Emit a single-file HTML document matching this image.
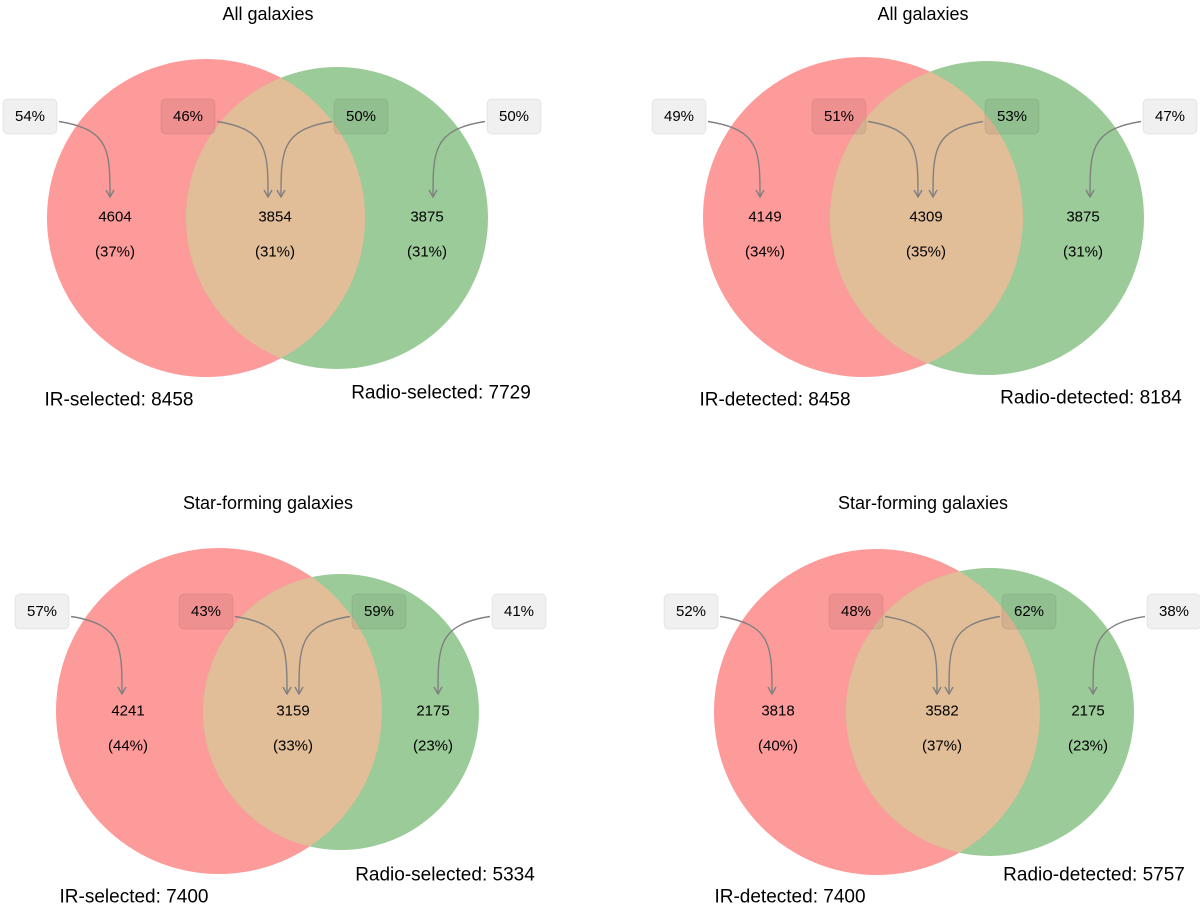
<!DOCTYPE html>
<html><head><meta charset="utf-8"><style>
html,body{margin:0;padding:0;background:#fff;}
svg{display:block;font-family:"Liberation Sans",sans-serif;}
</style></head><body>
<svg id="chart" width="1200" height="909" viewBox="0 0 1200 909" xmlns="http://www.w3.org/2000/svg">
<defs>
<marker id="ah" viewBox="0 0 10 10" refX="9" refY="5" markerWidth="10" markerHeight="10" markerUnits="userSpaceOnUse" orient="auto">
<path d="M2,1 L9,5 L2,9" fill="none" stroke="#808080" stroke-width="1.4"/>
</marker>
</defs>
</svg>
<script>
// Panel data
const titles = ["All galaxies","All galaxies","Star-forming galaxies","Star-forming galaxies"];
const irLabels = ["IR-selected: 8458","IR-detected: 8458","IR-selected: 7400","IR-detected: 7400"];
const radioLabels = ["Radio-selected: 7729","Radio-detected: 8184","Radio-selected: 5334","Radio-detected: 5757"];
const irOnly = [4604,4149,4241,3818];
const both = [3854,4309,3159,3582];
const radioOnly = [3875,3875,2175,2175];
const irOnlyPct = ["(37%)","(34%)","(44%)","(40%)"];
const bothPct = ["(31%)","(35%)","(33%)","(37%)"];
const radioOnlyPct = ["(31%)","(31%)","(23%)","(23%)"];
const boxIrOnly = ["54%","49%","57%","52%"];
const boxIrBoth = ["46%","51%","43%","48%"];
const boxRadioBoth = ["50%","53%","59%","62%"];
const boxRadioOnly = ["50%","47%","41%","38%"];

// layout (geometry, not data)
const layout = [
 {title:[268,14], red:[206,218,159], green:[337,218,151], row:[217,252], tx:[115,275,427], box:[99,134], bx:[3,161,334,487], ah:[110,268,281,433], ahy:197, ir:[119,400], rad:[441,393]},
 {title:[923,14], red:[863,217,160], green:[987,218,157], row:[217,252], tx:[765,926,1083], box:[99,134], bx:[652,812,985,1143], ah:[760,918,933,1090], ahy:197, ir:[775,400], rad:[1091,398]},
 {title:[268,503], red:[219,711,163], green:[341,712,138], row:[711,746], tx:[128,293,433], box:[594,629], bx:[15,179,352,492], ah:[122,287,299,438], ahy:694, ir:[134,897], rad:[445,875]},
 {title:[923,503], red:[877,712,163], green:[990,712,144], row:[711,746], tx:[778,942,1088], box:[594,629], bx:[664,829,1002,1147], ah:[772,937,949,1093], ahy:694, ir:[790,897], rad:[1094,875]}
];
const NS="http://www.w3.org/2000/svg";
const svg=document.getElementById('chart');
const defs=svg.querySelector('defs');
function mk(tag,attrs,parent){const e=document.createElementNS(NS,tag);for(const k in attrs)e.setAttribute(k,attrs[k]);(parent||svg).appendChild(e);return e;}
function txt(x,y,s,size,parent){const t=mk('text',{x:x,y:y,'font-size':size,'text-anchor':'middle','dominant-baseline':'central',fill:'#000'},parent);t.textContent=s;return t;}

layout.forEach((L,i)=>{
 const g=mk('g',{});
 
 
 const tt=txt(L.title[0],L.title[1],titles[i],18,g);
 
 
 const cp=mk('clipPath',{id:'clip'+i},defs);
 mk('circle',{cx:L.red[0],cy:L.red[1],r:L.red[2]},cp);
 const rc=mk('circle',{cx:L.red[0],cy:L.red[1],r:L.red[2],fill:'#fd9a9a'},g);
 
 
 const gc=mk('circle',{cx:L.green[0],cy:L.green[1],r:L.green[2],fill:'#9bcb98'},g);
 
 
 const oc=mk('circle',{cx:L.green[0],cy:L.green[1],r:L.green[2],fill:'#e1bd98','clip-path':'url(#clip'+i+')'},g);
 
 
 const counts=[irOnly[i],both[i],radioOnly[i]];
 const pcts=[irOnlyPct[i],bothPct[i],radioOnlyPct[i]];
 const names=['ir-only','both','radio-only'];
 for(let k=0;k<3;k++){
  const a=txt(L.tx[k],L.row[0],String(counts[k]),15,g);
  
  
  const b=txt(L.tx[k],L.row[1],pcts[k],15,g);
  
  
 }
 const boxes=[boxIrOnly[i],boxIrBoth[i],boxRadioBoth[i],boxRadioOnly[i]];
 const bnames=['ir-only-box','ir-both-box','radio-both-box','radio-only-box'];
 const bw=54, y0=L.box[0], y1=L.box[1], yc=(y0+y1)/2;
 for(let k=0;k<4;k++){
  const bx=L.bx[k];
  const leftSide=(k<2);
  const sx=leftSide?bx+bw+2:bx-2;
  const sy=yc+5;
  const hx=L.ah[k], hy=L.ahy;
  const p=mk('path',{d:`M${sx},${sy} C${hx},${sy+8} ${hx},${sy+30} ${hx},${hy}`,fill:'none',stroke:'#808080','stroke-width':1.4,'marker-end':'url(#ah)'},g);
  
  
  const r=mk('rect',{x:bx,y:y0,width:bw,height:y1-y0,rx:5,fill:'rgba(0,0,0,0.06)',stroke:'rgba(0,0,0,0.07)','stroke-width':1},g);
  
  
  const t=txt(bx+bw/2,yc,boxes[k],15,g);
  
  
 }
 const il=txt(L.ir[0],L.ir[1],irLabels[i],19,g);
 
 
 const rl=txt(L.rad[0],L.rad[1],radioLabels[i],19,g);
 
 
});
</script>
</body></html>
